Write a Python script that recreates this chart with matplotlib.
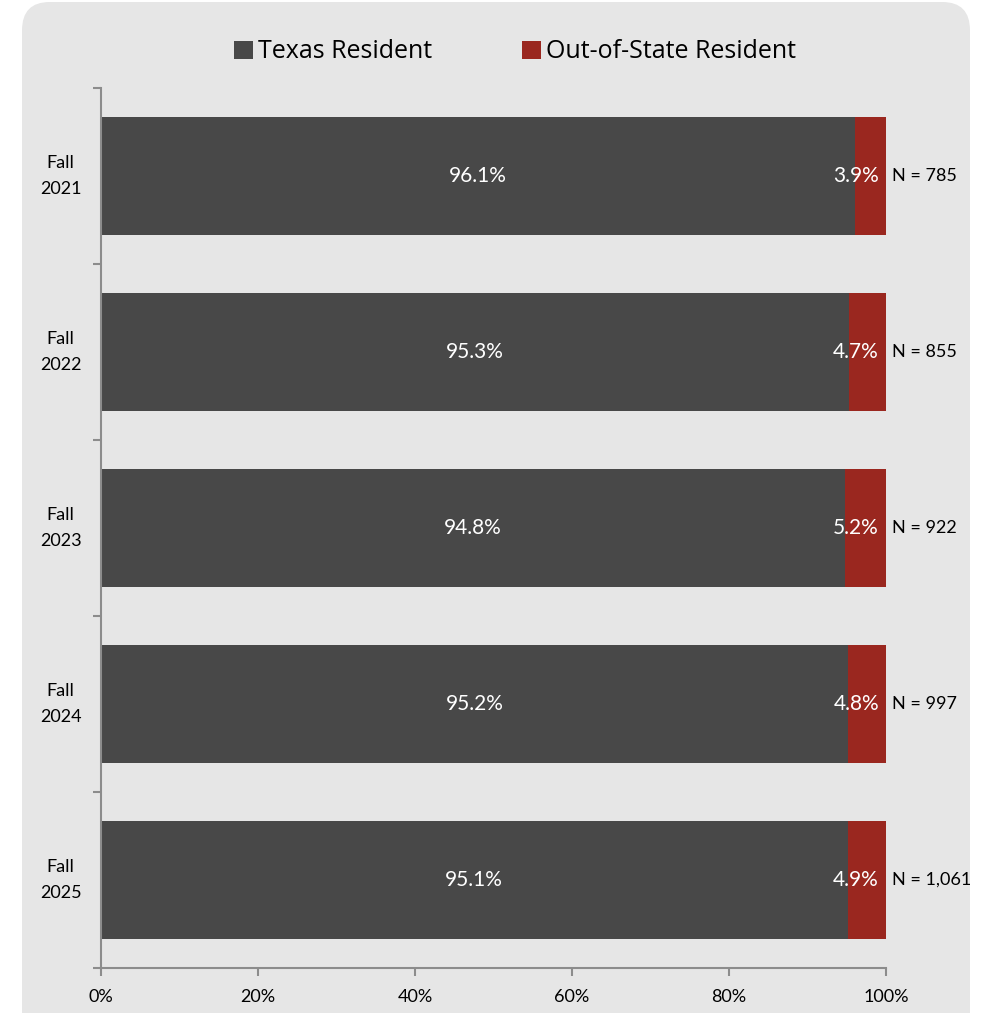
import matplotlib.pyplot as plt
import numpy as np
from matplotlib.patches import FancyBboxPatch

terms = ['Fall\n2021', 'Fall\n2022', 'Fall\n2023', 'Fall\n2024', 'Fall\n2025']
texas = [96.1, 95.3, 94.8, 95.2, 95.1]
out_of_state = [3.9, 4.7, 5.2, 4.8, 4.9]
n_counts = ['785', '855', '922', '997', '1,061']

plt.rcParams['font.family'] = ['Lato', 'DejaVu Sans']

dark = '#484848'
red = '#9a271f'
bg = '#e6e6e6'
axis_gray = '#8c8c8c'

fig = plt.figure(figsize=(9.9, 10.13), dpi=100)
W, H = 990, 1013

# rounded panel behind the chart
panel = FancyBboxPatch((22 / W, -40 / H), 948 / W, 1051 / H,
                       boxstyle='round,pad=0,rounding_size=0.028',
                       transform=fig.transFigure, facecolor=bg,
                       edgecolor='none', zorder=-5)
fig.patches.append(panel)

ax = fig.add_axes([101 / W, 1 - 968 / H, 785 / W, 880 / H])
ax.set_facecolor('none')

y = np.arange(len(terms))
ax.barh(y, texas, height=0.665, color=dark, label='Texas Resident', zorder=2)
ax.barh(y, out_of_state, left=texas, height=0.665, color=red,
        label='Out-of-State Resident', zorder=2)

for i in range(len(terms)):
    ax.text(texas[i] / 2, y[i], f'{texas[i]:.1f}%', color='white',
            ha='center', va='center', fontsize=15, zorder=3)
    ax.text(99.1, y[i], f'{out_of_state[i]:.1f}%', color='white',
            ha='right', va='center', fontsize=15, zorder=3)
    ax.text(100.8, y[i], f'N = {n_counts[i]}', color='black',
            ha='left', va='center', fontsize=13, zorder=3)

ax.set_xlim(0, 100)
ax.set_ylim(len(terms) - 0.5, -0.5)

ax.set_xticks(np.arange(0, 101, 20))
ax.set_xticklabels([f'{v}%' for v in range(0, 101, 20)], fontsize=13)
ax.set_yticks(np.arange(-0.5, len(terms), 1.0))
ax.set_yticklabels([])
ax.set_yticks(y, minor=True)
ax.set_yticklabels(terms, minor=True, fontsize=13, ha='center', va='center',
                   linespacing=1.7)
ax.tick_params(axis='y', which='minor', length=0, pad=29)
ax.tick_params(axis='y', which='major', length=6, width=1.5, color=axis_gray)
ax.tick_params(axis='x', length=6, width=1.5, color=axis_gray, pad=9)

for s in ['top', 'right']:
    ax.spines[s].set_visible(False)
for s in ['left', 'bottom']:
    ax.spines[s].set_color(axis_gray)
    ax.spines[s].set_linewidth(1.5)

leg = fig.legend(loc='center', bbox_to_anchor=(0.52, 1 - 52 / H), ncol=2,
                 frameon=False, prop={'family': 'Open Sans', 'size': 18},
                 handlelength=0.75, handleheight=0.75,
                 handletextpad=0.2, columnspacing=3.6)

fig.savefig('out.png', dpi=100)
